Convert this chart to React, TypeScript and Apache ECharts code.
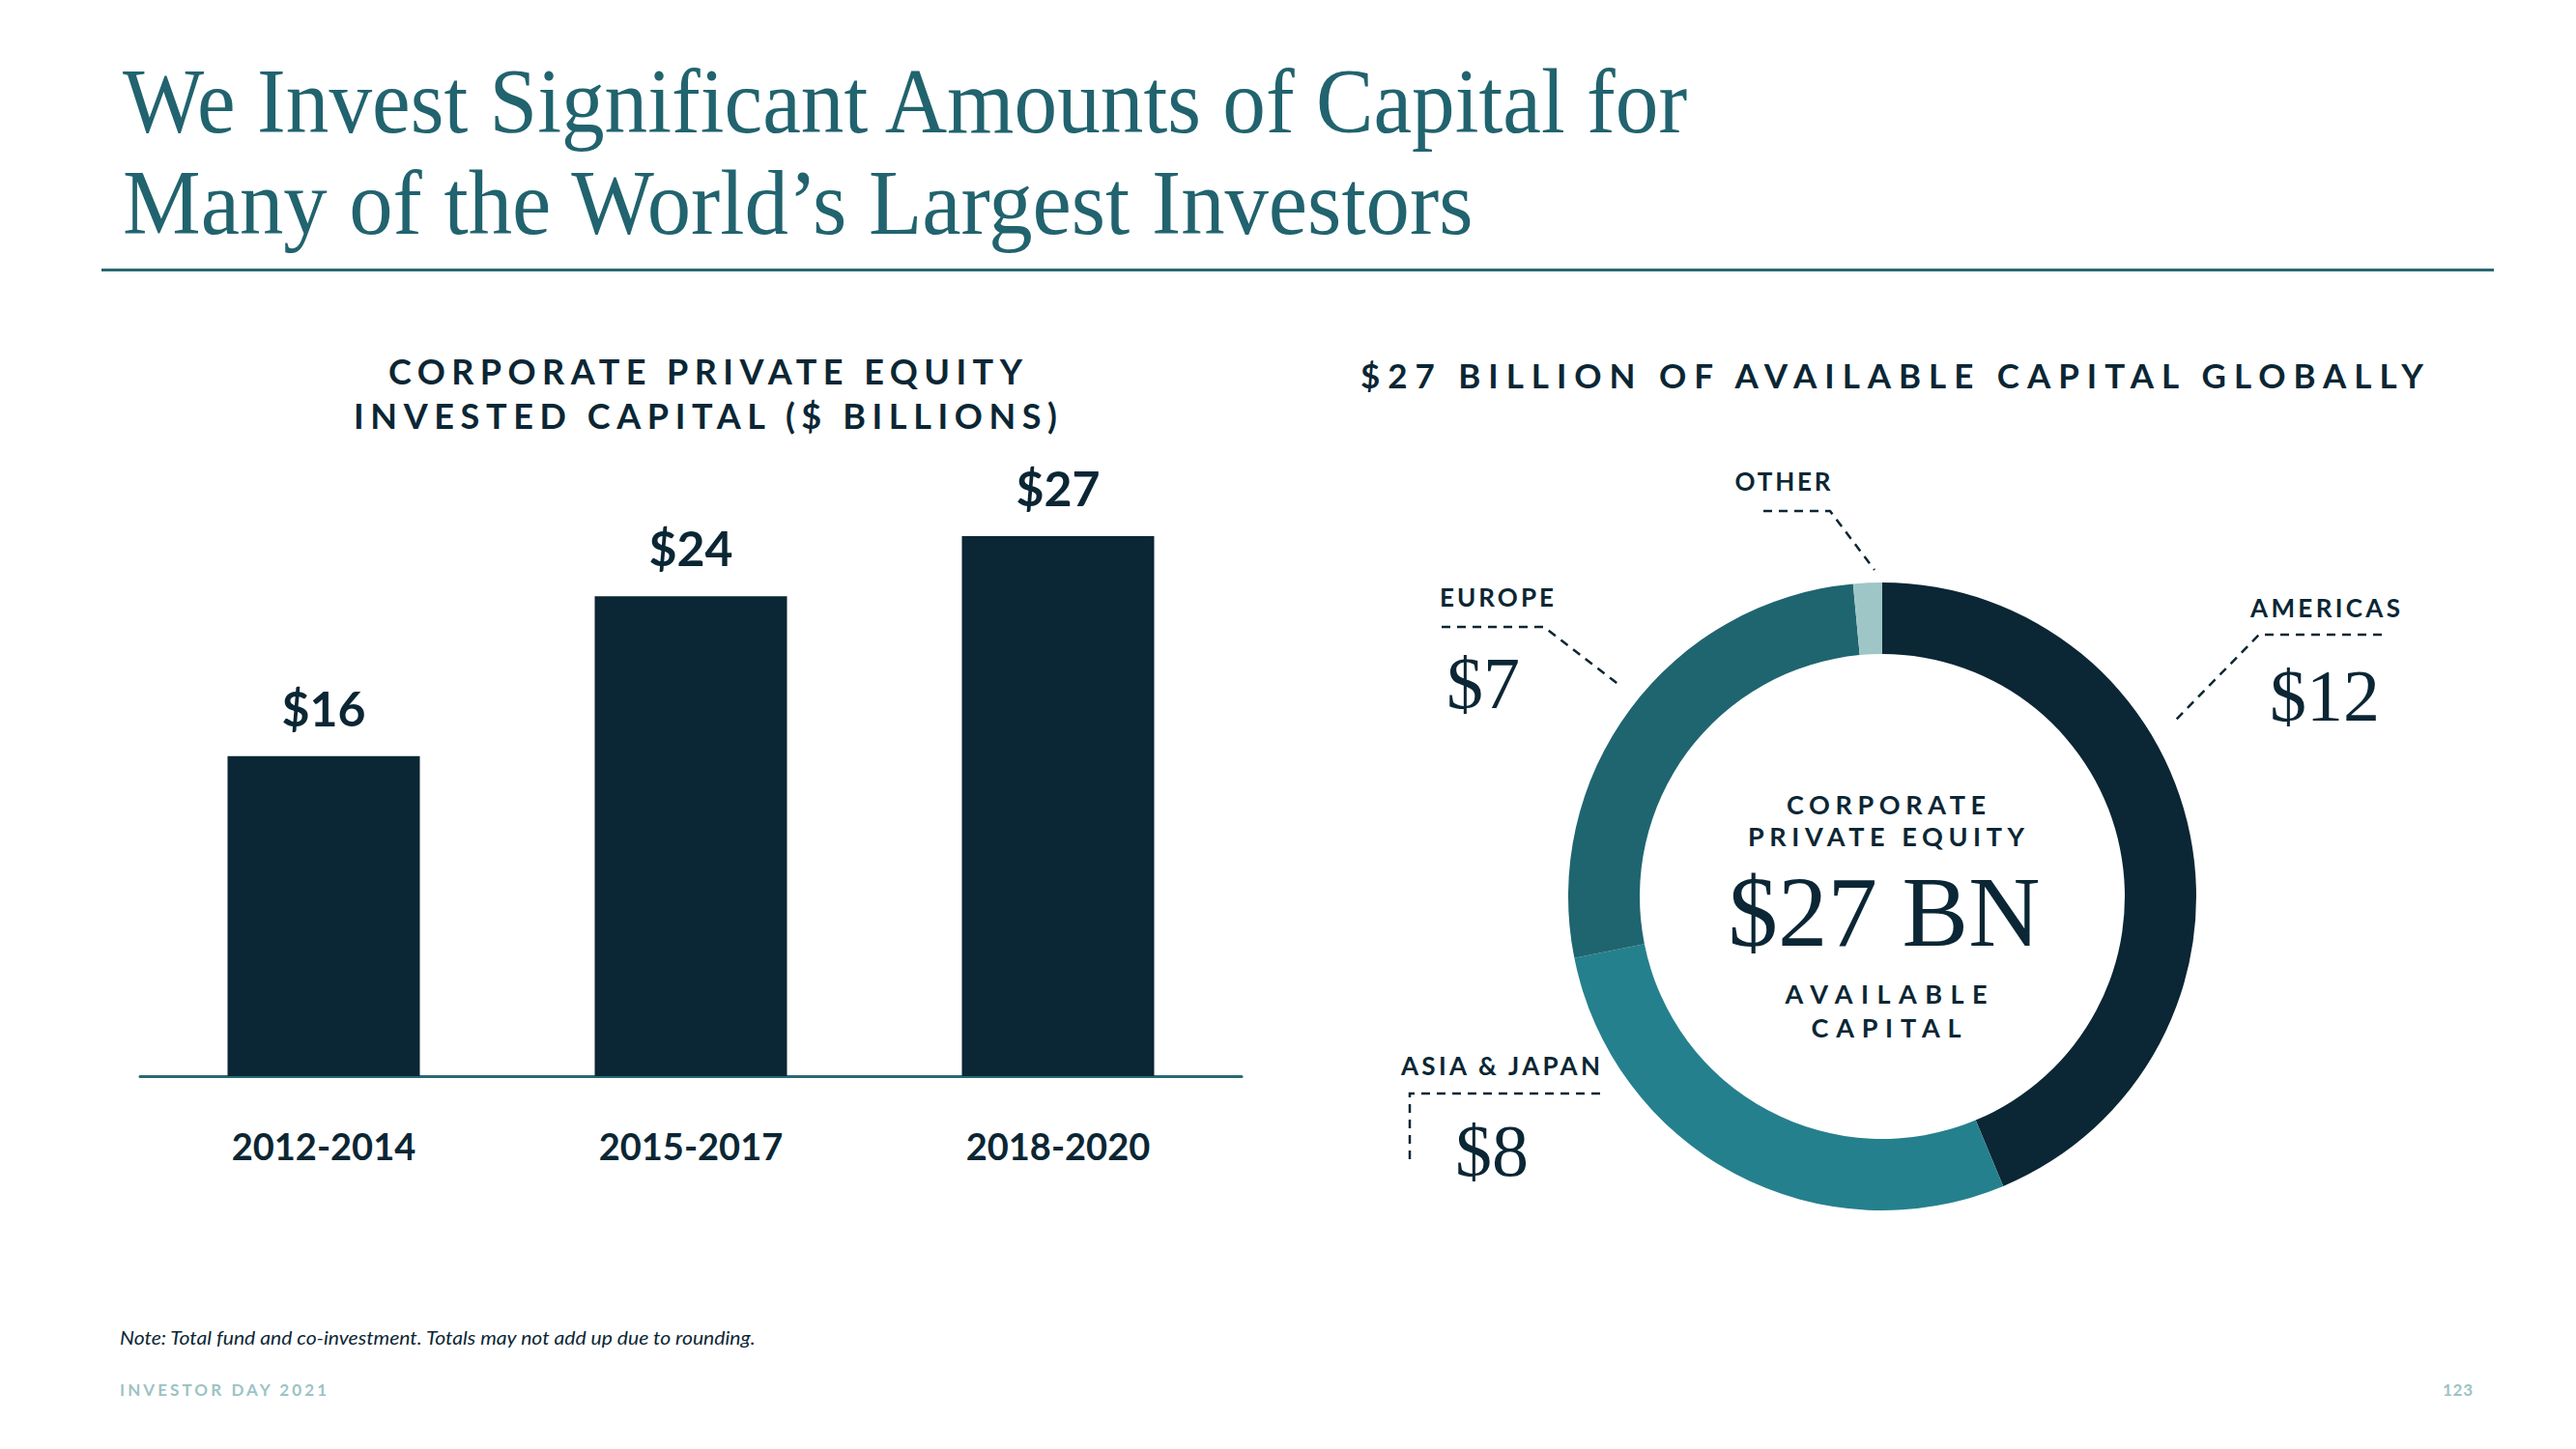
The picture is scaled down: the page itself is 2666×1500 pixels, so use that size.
import React, { useEffect, useRef } from "react";
import * as echarts from "echarts";

// ---------- data ----------
const periods = ["2012-2014", "2015-2017", "2018-2020"];
const investedCapital = [16, 24, 27];

const regions = ["Americas", "Asia & Japan", "Europe", "Other"];
const regionCapital = [11.8, 7.6, 7.2, 0.4];
const regionLabels = ["AMERICAS", "ASIA & JAPAN", "EUROPE", "OTHER"];
const regionValueLabels = ["$12", "$8", "$7", ""];

const titleLines = [
  "We Invest Significant Amounts of Capital for",
  "Many of the World\u2019s Largest Investors",
];
const barTitleLines = ["CORPORATE PRIVATE EQUITY", "INVESTED CAPITAL ($ BILLIONS)"];
const donutTitle = "$27 BILLION OF AVAILABLE CAPITAL GLOBALLY";
const donutCenterTop = ["CORPORATE", "PRIVATE EQUITY"];
const donutCenterValue = "$27 BN";
const donutCenterBottom = ["AVAILABLE", "CAPITAL"];
const noteText = "Note: Total fund and co-investment. Totals may not add up due to rounding.";
const footerLeft = "INVESTOR DAY 2021";
const pageNumber = "123";

// ---------- style ----------
const W = 2666;
const H = 1500;
const NAVY = "#0b2634";
const TITLE_TEAL = "#21636e";
const RULE_TEAL = "#2a6973";
const REGION_COLORS = ["#0b2634", "#25808d", "#1f6570", "#9fc6c7"];
const FOOTER = "#9cc3c4";
const SERIF = "'Liberation Serif', 'DejaVu Serif', serif";
const SANS = "Lato, 'Open Sans', 'DejaVu Sans', sans-serif";

// target widths for letter-spaced caps (layout only)
const spacedWidths: Record<string, number> = {
  "CORPORATE PRIVATE EQUITY": 656,
  "INVESTED CAPITAL ($ BILLIONS)": 728,
  "$27 BILLION OF AVAILABLE CAPITAL GLOBALLY": 1100,
  OTHER: 99,
  EUROPE: 118,
  AMERICAS: 155,
  "ASIA & JAPAN": 206,
  CORPORATE: 206,
  "PRIVATE EQUITY": 286,
  AVAILABLE: 209,
  CAPITAL: 155,
  "INVESTOR DAY 2021": 214,
  "123": 31,
};

function measure(text: string, font: string): number {
  const c = document.createElement("canvas").getContext("2d");
  if (!c) return 1;
  c.font = font;
  return c.measureText(text).width || 1;
}

function applySpacing(root: HTMLElement) {
  root.querySelectorAll("text").forEach((node) => {
    const el = node as SVGTextElement;
    const t = (el.textContent || "").trim();
    const target = spacedWidths[t];
    if (!target) return;
    el.style.letterSpacing = "0px";
    el.removeAttribute("dx");
    const natural = el.getComputedTextLength();
    const n = Array.from(t).length;
    if (n < 2) return;
    const s = Math.max(0, (target - natural) / (n - 1));
    el.style.letterSpacing = s + "px";
    const anchor = el.getAttribute("text-anchor") || "start";
    if (anchor === "middle") el.setAttribute("dx", String(s / 2));
    else if (anchor === "end") el.setAttribute("dx", String(s));
  });
}

function txt(
  text: string,
  x: number,
  y: number,
  o: {
    size: number;
    family?: string;
    weight?: string | number;
    style?: string;
    color?: string;
    align?: string;
    scaleX?: number;
  }
) {
  const align = o.align || "left";
  return {
    type: "text",
    x,
    y,
    scaleX: o.scaleX || 1,
    silent: true,
    style: {
      text,
      fill: o.color || NAVY,
      fontSize: o.size,
      fontFamily: o.family || SANS,
      fontWeight: o.weight || "normal",
      fontStyle: o.style || "normal",
      align,
      verticalAlign: "middle",
      textAlign: align,
      textVerticalAlign: "middle",
    },
  };
}

function dashed(points: number[][]) {
  return {
    type: "polyline",
    silent: true,
    shape: { points },
    style: { stroke: NAVY, lineWidth: 2.5, lineDash: [9, 7], fill: null },
  };
}

export default function App() {
  const ref = useRef<HTMLDivElement>(null);

  useEffect(() => {
    document.body.style.margin = "0";
    const el = ref.current;
    if (!el) return;
    const chart = echarts.init(el, null, { renderer: "svg", width: W, height: H });

    const titleSize = 96;
    const titleFont = `${titleSize}px 'Liberation Serif'`;
    const t1Scale = 1624 / measure(titleLines[0], titleFont);
    const t2Scale = 1399 / measure(titleLines[1], titleFont);
    const bnSize = 104;
    const bnScale = 323 / measure(donutCenterValue, `${bnSize}px 'Liberation Serif'`);
    const noteSize = 20;
    const noteScale = 660 / measure(noteText, `italic ${noteSize}px Lato`);

    const graphic: any[] = [
      txt(titleLines[0], 127, 104, { size: titleSize, family: SERIF, color: TITLE_TEAL, scaleX: t1Scale }),
      txt(titleLines[1], 127, 210, { size: titleSize, family: SERIF, color: TITLE_TEAL, scaleX: t2Scale }),
      {
        type: "rect",
        silent: true,
        shape: { x: 105, y: 278, width: 2476, height: 3 },
        style: { fill: RULE_TEAL },
      },
      txt(barTitleLines[0], 730, 384, { size: 36, weight: "bold", align: "center" }),
      txt(barTitleLines[1], 730, 430, { size: 36, weight: "bold", align: "center" }),
      txt(donutTitle, 1958, 388, { size: 35, weight: "bold", align: "center" }),

      // donut centre
      txt(donutCenterTop[0], 1952, 832, { size: 27, weight: "bold", align: "center" }),
      txt(donutCenterTop[1], 1952, 865, { size: 27, weight: "bold", align: "center" }),
      txt(donutCenterValue, 1950, 944, { size: bnSize, family: SERIF, align: "center", scaleX: bnScale }),
      txt(donutCenterBottom[0], 1952, 1028, { size: 27, weight: "bold", align: "center" }),
      txt(donutCenterBottom[1], 1952, 1063, { size: 27, weight: "bold", align: "center" }),

      // region callouts
      txt(regionLabels[3], 1845, 498, { size: 26, weight: "bold", align: "center" }),
      dashed([[1825, 529], [1894, 529], [1940, 590]]),

      txt(regionLabels[2], 1490, 618, { size: 26, weight: "bold" }),
      dashed([[1492, 649], [1598, 649], [1677, 710]]),
      txt(regionValueLabels[2], 1535, 707, { size: 76, family: SERIF, align: "center" }),

      txt(regionLabels[0], 2484, 629, { size: 26, weight: "bold", align: "right" }),
      dashed([[2465, 657], [2338, 657], [2252, 745]]),
      txt(regionValueLabels[0], 2406, 720, { size: 76, family: SERIF, align: "center" }),

      txt(regionLabels[1], 1450, 1103, { size: 26, weight: "bold" }),
      dashed([[1656, 1132], [1459, 1132], [1459, 1202]]),
      txt(regionValueLabels[1], 1544, 1191, { size: 76, family: SERIF, align: "center" }),

      // footer
      txt(noteText, 124, 1384, { size: noteSize, style: "italic", scaleX: noteScale }),
      txt(footerLeft, 124, 1438, { size: 17, weight: "bold", color: FOOTER }),
      txt(pageNumber, 2559, 1438, { size: 17, weight: "bold", color: FOOTER, align: "right" }),
    ];

    const option: any = {
      animation: false,
      backgroundColor: "#ffffff",
      grid: { left: 145, right: W - 1285, top: 493, bottom: H - 1114, containLabel: false },
      xAxis: {
        type: "category",
        data: periods,
        axisLine: { show: true, lineStyle: { color: RULE_TEAL, width: 3 } },
        axisTick: { show: false },
        axisLabel: {
          margin: 53,
          color: NAVY,
          fontSize: 38,
          fontWeight: "bold",
          fontFamily: SANS,
        },
      },
      yAxis: {
        type: "value",
        min: 0,
        max: 30,
        show: false,
        splitLine: { show: false },
      },
      series: [
        {
          type: "bar",
          data: investedCapital,
          barWidth: 199,
          silent: true,
          itemStyle: { color: NAVY },
          label: {
            show: true,
            position: "top",
            distance: 25,
            formatter: (p: any) => "$" + p.value,
            color: NAVY,
            fontSize: 50,
            fontWeight: "bold",
            fontFamily: SANS,
          },
        },
        {
          type: "pie",
          center: [1948, 928],
          radius: [251, 325],
          startAngle: 90,
          clockwise: true,
          silent: true,
          label: { show: false },
          labelLine: { show: false },
          emphasis: { disabled: true },
          itemStyle: { borderWidth: 0 },
          data: regions.map((name, i) => ({
            name,
            value: regionCapital[i],
            itemStyle: { color: REGION_COLORS[i] },
          })),
        },
      ],
      graphic,
    };

    chart.setOption(option);
    applySpacing(el);
    const onFinished = () => applySpacing(el);
    chart.on("finished", onFinished);
    const timer = setTimeout(() => applySpacing(el), 60);

    return () => {
      clearTimeout(timer);
      chart.off("finished", onFinished);
      chart.dispose();
    };
  }, []);

  return (
    <div
      ref={ref}
      style={{ position: "absolute", left: 0, top: 0, width: W, height: H, background: "#fff" }}
    />
  );
}
